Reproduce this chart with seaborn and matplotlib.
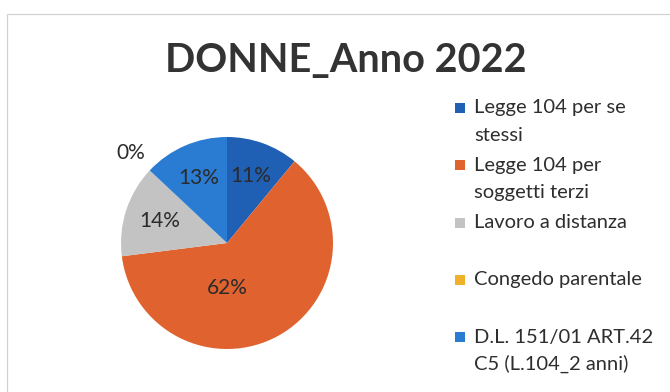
import numpy as np
import matplotlib
matplotlib.use("Agg")
import matplotlib.pyplot as plt
from matplotlib.patches import Rectangle
import seaborn as sns

# ---- data ----
title = "DONNE_Anno 2022"
categories = [
    "Legge 104 per se\nstessi",
    "Legge 104 per\nsoggetti terzi",
    "Lavoro a distanza",
    "Congedo parentale",
    "D.L. 151/01 ART.42\nC5 (L.104_2 anni)",
]
values = [11, 62, 14, 0, 13]
colors = ["#1f5fb4", "#e0622f", "#c3c3c3", "#f0b12a", "#2a7bd2"]

sns.set_theme(style="white")
plt.rcParams["font.family"] = ["Lato", "DejaVu Sans"]

W, H = 670, 392
DPI = 100
fig = plt.figure(figsize=(W / DPI, H / DPI), dpi=DPI)
fig.patch.set_facecolor("white")

def fx(px):
    return px / W

def fy(py):
    return 1 - py / H

# chart border (extends beyond right/bottom edge)
fig.add_artist(Rectangle((fx(7), fy(H + 10)), fx(W + 20), (H + 10 - 14) / H,
                         transform=fig.transFigure, fill=False,
                         edgecolor="#d2d2d2", linewidth=0.9))

# title
fig.text(fx(346), fy(61), title, ha="center", va="center",
         fontsize=28.5, fontweight="bold", color="#333333")

# pie
cx, cy, R = 227, 243, 106
ax = fig.add_axes([fx(cx - R), fy(cy + R), 2 * R / W, 2 * R / H])
wedges, _ = ax.pie(values, colors=colors, startangle=90, counterclock=False,
                   radius=1.0, wedgeprops=dict(linewidth=0))
ax.set_xlim(-1, 1)
ax.set_ylim(-1, 1)
ax.set_aspect("equal")
ax.axis("off")

total = float(sum(values))
start = 90.0
for v in values:
    span = 360.0 * v / total
    mid = start - span / 2
    start -= span
    if v == 0:
        r, ang = 1.24, mid
    elif v / total > 0.5:
        r, ang = 0.42, 270.0
    else:
        r, ang = 0.67, mid
    x = r * np.cos(np.radians(ang))
    y = r * np.sin(np.radians(ang))
    ax.text(x, y, f"{v:.0f}%", ha="center", va="center",
            fontsize=15, color="#2b2b2b", clip_on=False)

# legend (manual, to keep marker aligned with first text line)
leg_x_marker = 455
leg_x_text = 474
first_y = 108
step = 57.3
line_h = 27
for i, (lab, col) in enumerate(zip(categories, colors)):
    y0 = first_y + i * step
    fig.add_artist(Rectangle((fx(leg_x_marker), fy(y0 + 5)), fx(10), 10 / H,
                             transform=fig.transFigure, facecolor=col,
                             edgecolor="none"))
    for j, line in enumerate(lab.split("\n")):
        fig.text(fx(leg_x_text), fy(y0 + j * line_h), line, ha="left",
                 va="center", fontsize=14.5, color="#2e2e2e")

fig.savefig("out.png", dpi=DPI, facecolor="white")
